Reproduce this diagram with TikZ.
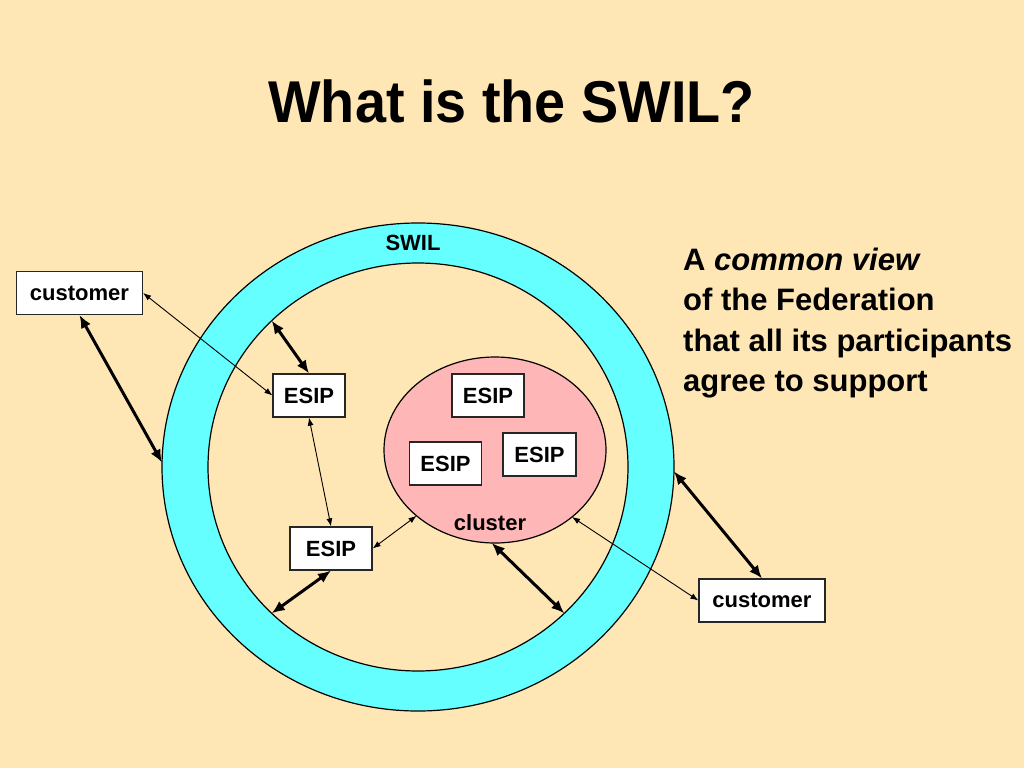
\documentclass[tikz,border=0pt]{standalone}
\usepackage{graphicx}
\usepackage{fontspec}
\setmainfont{Liberation Sans}
\usetikzlibrary{shapes.geometric,arrows.meta}

\definecolor{slidebg}{RGB}{255,231,181}
\definecolor{swilcyan}{RGB}{102,255,255}
\definecolor{clusterpink}{RGB}{255,182,182}

\tikzset{
  box/.style={draw=black!85, fill=white, line width=1.2pt, minimum height=43pt, inner sep=0pt, font=\fontsize{22}{26}\selectfont\bfseries},
  ring/.style={ellipse, draw=black, line width=1.2pt, inner sep=0pt, outer sep=0pt},
  label text/.style={font=\fontsize{22}{26}\selectfont\bfseries},
  thick link/.style={line width=3pt, {Latex[length=13pt,width=11pt]}-{Latex[length=13pt,width=11pt]}},
  thin link/.style={line width=0.9pt, {Latex[length=8pt,width=6pt]}-{Latex[length=8pt,width=6pt]}},
}

\begin{document}
\begin{tikzpicture}[x=1pt, y=-1pt]
\fill[slidebg] (0,0) rectangle (1024,768);
\useasboundingbox (0,0) rectangle (1024,768);

\node[anchor=base, font=\fontsize{59}{70}\selectfont\bfseries] (title) at (511.5,122) {\scalebox{0.945}[1]{What is the SWIL?}};

% the ring and the cluster
\node[ring, fill=swilcyan, minimum width=512pt, minimum height=488pt] (swil) at (418,467) {};
\node[ring, fill=slidebg, minimum width=420pt, minimum height=408pt] (inner) at (418,467) {};
\node[ring, fill=clusterpink, minimum width=222pt, minimum height=186pt] (cluster) at (495,450) {};
\node[label text] (swillabel) at (413,243) {SWIL};
\node[label text] (clusterlabel) at (490,523) {cluster};

% boxes
\node[box, minimum width=126pt] (cust1) at (79.5,293) {customer};
\node[box, minimum width=72pt] (esip1) at (309,395.5) {ESIP};
\node[box, minimum width=82pt] (esip2) at (331,548.5) {ESIP};
\node[box, minimum width=72pt] (esip3) at (488,395.5) {ESIP};
\node[box, minimum width=72pt] (esip4) at (445.5,463.5) {ESIP};
\node[box, minimum width=73pt] (esip5) at (539.5,454.5) {ESIP};
\node[box, minimum width=126pt] (cust2) at (762,600.5) {customer};

% links
\draw[thick link] (cust1.south) -- (swil.179);
\draw[thick link] (inner.135) -- (esip1.north);
\draw[thick link] (esip2.south) -- (inner.225);
\draw[thick link] (cluster.268) -- (inner.315);
\draw[thick link] (swil.-1) -- (cust2.north);
\draw[thin link] (cust1.east) -- (esip1.west);
\draw[thin link] (esip1.south) -- (esip2.north);
\draw[thin link] (esip2.east) -- (cluster.220);
\draw[thin link] (cluster.319) -- (cust2.west);

\node[anchor=base west, align=left, inner sep=0pt, font=\fontsize{31}{40.5}\selectfont\bfseries] (view) at (683,391.5) {A \textit{common view}\\of the Federation\\that all its participants\\agree to support};
\end{tikzpicture}
\end{document}
